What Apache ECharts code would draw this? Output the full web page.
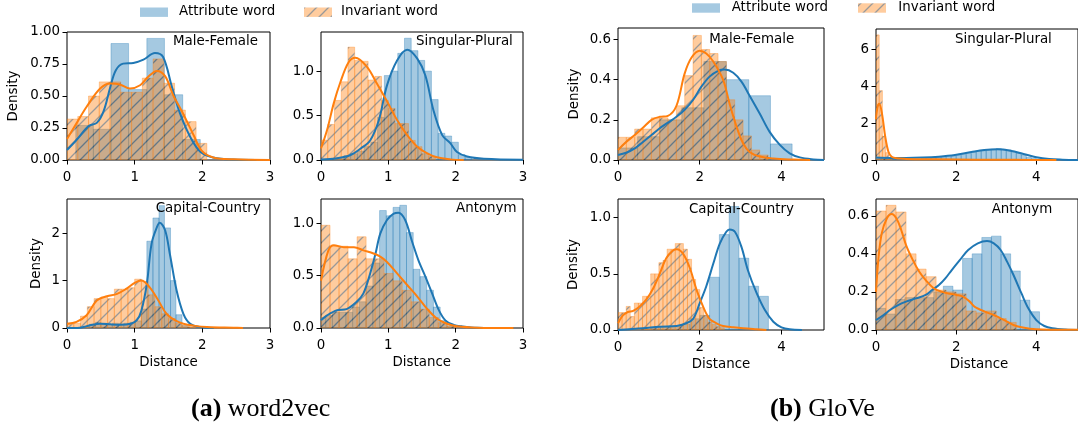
<!DOCTYPE html>
<html>
<head>
<meta charset="utf-8">
<script src="https://cdn.jsdelivr.net/npm/echarts@6.0.0/dist/echarts.min.js"></script>
<style>html,body{margin:0;padding:0;background:#fff}#c{width:1078px;height:431px}</style>
</head>
<body>
<div id="c"></div>
<script>
// ---------------- DATA ----------------
const legendLabels = ['Attribute word', 'Invariant word'];
const panelTitles = ['Male-Female', 'Singular-Plural', 'Capital-Country', 'Antonym'];
const captionTags = ['(a)', '(b)'];
const captionNames = ['word2vec', 'GloVe'];
const axisXName = 'Distance';
const axisYName = 'Density';

const w2vXTicks = [0, 1, 2, 3];
const gloveXTicks = [0, 2, 4];
const w2vMF_yTicks = [0, 0.25, 0.5, 0.75, 1.0];
const w2vSP_yTicks = [0, 0.5, 1.0];
const w2vCC_yTicks = [0, 1, 2];
const w2vAN_yTicks = [0, 0.5, 1.0];
const gloveMF_yTicks = [0, 0.2, 0.4, 0.6];
const gloveSP_yTicks = [0, 2, 4, 6];
const gloveCC_yTicks = [0, 0.5, 1.0];
const gloveAN_yTicks = [0, 0.2, 0.4, 0.6];

// word2vec / Male-Female
const w2vMF_attrEdges = [0.13, 0.39, 0.65, 0.91, 1.18, 1.44, 1.71, 1.97];
const w2vMF_attrHist = [0.27, 0.24, 0.91, 0.55, 0.95, 0.51, 0.16];
const w2vMF_invEdges = [0, 0.159, 0.318, 0.477, 0.636, 0.795, 0.954, 1.113, 1.272, 1.431, 1.59, 1.749, 1.908, 2.067];
const w2vMF_invHist = [0.32, 0.34, 0.50, 0.61, 0.61, 0.53, 0.53, 0.64, 0.79, 0.60, 0.39, 0.30, 0.13];
const w2vMF_attrKde = [[0,0.078],[0.14,0.156],[0.32,0.265],[0.44,0.29],[0.54,0.38],[0.64,0.57],[0.72,0.70],[0.83,0.753],[0.98,0.758],[1.13,0.784],[1.3,0.836],[1.42,0.805],[1.55,0.571],[1.67,0.364],[1.82,0.182],[1.97,0.065],[2.16,0.02],[2.46,0.003],[2.8,0]];
const w2vMF_invKde = [[0,0.164],[0.14,0.286],[0.29,0.416],[0.49,0.558],[0.64,0.597],[0.78,0.59],[0.93,0.558],[1.08,0.584],[1.2,0.65],[1.33,0.696],[1.45,0.655],[1.57,0.506],[1.72,0.358],[1.87,0.195],[1.99,0.073],[2.16,0.02],[2.46,0.005],[3.0,0]];

// word2vec / Singular-Plural
const w2vSP_attrEdges = [0.14,0.24,0.34,0.44,0.54,0.64,0.74,0.84,0.94,1.04,1.14,1.24,1.34,1.44,1.54,1.64,1.74,1.84,1.94,2.04,2.14,2.24];
const w2vSP_attrHist = [0.02,0.03,0.05,0.07,0.1,0.15,0.2,0.48,0.95,1.0,1.2,1.37,1.23,1.12,1.0,0.68,0.3,0.27,0.2,0.06,0.03];
const w2vSP_invEdges = [0,0.1,0.2,0.3,0.4,0.5,0.6,0.7,0.8,0.9,1.0,1.1,1.2,1.3,1.4,1.5,1.6,1.7];
const w2vSP_invHist = [0.225,0.40,0.67,0.88,1.27,1.12,1.11,0.90,0.94,0.67,0.58,0.41,0.41,0.22,0.15,0.07,0.04];
const w2vSP_attrKde = [[0,0.007],[0.24,0.02],[0.44,0.056],[0.59,0.13],[0.73,0.22],[0.86,0.45],[0.98,0.84],[1.13,1.12],[1.28,1.24],[1.43,1.14],[1.55,0.95],[1.67,0.56],[1.8,0.28],[1.92,0.19],[2.02,0.09],[2.17,0.04],[2.42,0.015],[3,0.004]];
const w2vSP_invKde = [[0,0.13],[0.09,0.337],[0.19,0.64],[0.29,0.88],[0.41,1.10],[0.51,1.15],[0.68,1.05],[0.83,0.86],[0.98,0.66],[1.13,0.45],[1.28,0.28],[1.43,0.15],[1.58,0.075],[1.72,0.03],[1.92,0.007],[2.12,0]];

// word2vec / Capital-Country
const w2vCC_attrEdges = [0.25,0.33,0.42,0.50,0.59,0.67,0.76,0.84,0.93,1.01,1.10,1.18,1.27,1.36,1.44,1.53,1.61,1.70,1.78];
const w2vCC_attrHist = [0.03,0.08,0.12,0.10,0.08,0.10,0.08,0.10,0.12,0.15,0.4,1.83,2.32,2.58,2.11,1.0,0.28,0.05];
const w2vCC_invEdges = [0,0.1,0.2,0.3,0.4,0.5,0.6,0.7,0.8,0.9,1.0,1.1,1.2,1.3,1.4,1.5,1.6,1.7,1.8,1.9];
const w2vCC_invHist = [0.08,0.1,0.25,0.45,0.62,0.65,0.62,0.82,0.82,0.85,1.03,0.98,0.7,0.45,0.3,0.2,0.1,0.05,0.03];
const w2vCC_attrKde = [[0,0],[0.19,0.007],[0.34,0.056],[0.49,0.09],[0.64,0.077],[0.79,0.07],[0.94,0.09],[1.03,0.16],[1.1,0.37],[1.18,0.93],[1.25,1.78],[1.33,2.13],[1.37,2.22],[1.45,2.06],[1.52,1.56],[1.62,0.79],[1.72,0.30],[1.82,0.09],[1.97,0.02],[2.17,0]];
const w2vCC_invKde = [[0,0.09],[0.14,0.13],[0.29,0.27],[0.44,0.58],[0.59,0.67],[0.74,0.72],[0.88,0.83],[1.0,0.95],[1.1,1.0],[1.22,0.86],[1.35,0.58],[1.47,0.30],[1.6,0.16],[1.72,0.09],[1.87,0.05],[2.07,0.02],[2.46,0.005],[2.6,0]];

// word2vec / Antonym
const w2vAN_attrEdges = [0,0.07,0.17,0.27,0.37,0.47,0.57,0.67,0.77,0.87,0.97,1.07,1.17,1.27,1.37,1.47,1.57,1.67,1.77,1.87,1.97];
const w2vAN_attrHist = [0.1,0.12,0.15,0.15,0.15,0.2,0.25,0.4,0.62,1.12,1.07,1.15,1.17,0.91,0.56,0.49,0.36,0.2,0.07,0.02];
const w2vAN_invEdges = [0,0.134,0.268,0.402,0.536,0.67,0.804,0.938,1.072,1.206,1.34,1.474,1.608,1.742,1.876,2.01];
const w2vAN_invHist = [0.98,0.78,0.78,0.66,0.87,0.66,0.66,0.52,0.45,0.36,0.25,0.18,0.1,0.05,0.02];
const w2vAN_attrKde = [[0,0.073],[0.09,0.12],[0.24,0.17],[0.38,0.18],[0.53,0.25],[0.63,0.33],[0.73,0.52],[0.81,0.71],[0.88,0.9],[0.98,1.03],[1.08,1.09],[1.15,1.10],[1.25,1.03],[1.35,0.83],[1.45,0.64],[1.55,0.49],[1.65,0.33],[1.75,0.17],[1.85,0.07],[1.97,0.03],[2.09,0.016],[2.32,0.003],[2.86,0]];
const w2vAN_invKde = [[0,0.45],[0.11,0.74],[0.19,0.79],[0.34,0.77],[0.49,0.77],[0.63,0.74],[0.78,0.71],[0.88,0.68],[0.98,0.63],[1.13,0.52],[1.28,0.41],[1.43,0.3],[1.58,0.18],[1.72,0.09],[1.87,0.04],[2.02,0.016],[2.32,0.003],[2.86,0]];

// GloVe / Male-Female
const gloveMF_attrEdges = [0,0.48,1.02,1.56,2.1,2.65,3.2,3.73,4.26];
const gloveMF_attrHist = [0.06,0.116,0.2,0.26,0.49,0.40,0.32,0.08];
const gloveMF_invEdges = [0,0.204,0.408,0.612,0.816,1.02,1.224,1.428,1.632,1.836,2.04,2.244,2.448,2.652,2.856,3.06,3.264,3.468,3.672];
const gloveMF_invHist = [0.113,0.113,0.154,0.154,0.21,0.21,0.2,0.27,0.42,0.62,0.55,0.53,0.49,0.3,0.2,0.12,0.05,0.025];
const gloveMF_attrKde = [[0,0.025],[0.2,0.036],[0.41,0.058],[0.61,0.09],[0.82,0.124],[1.02,0.158],[1.22,0.186],[1.43,0.215],[1.63,0.25],[1.84,0.3],[2.04,0.365],[2.24,0.415],[2.45,0.444],[2.61,0.45],[2.82,0.434],[3.02,0.39],[3.22,0.32],[3.47,0.23],[3.71,0.14],[3.96,0.075],[4.2,0.033],[4.45,0.013],[4.78,0.003],[5.04,0]];
const gloveMF_invKde = [[0,0.05],[0.2,0.09],[0.41,0.124],[0.61,0.16],[0.82,0.2],[1.02,0.215],[1.22,0.22],[1.43,0.27],[1.63,0.43],[1.8,0.51],[2.0,0.544],[2.16,0.53],[2.33,0.49],[2.57,0.4],[2.73,0.28],[2.9,0.166],[3.06,0.083],[3.22,0.04],[3.47,0.017],[3.8,0.007],[4.29,0.002],[4.7,0]];

// GloVe / Singular-Plural
const gloveSP_attrEdges = [0,0.125,0.25,0.375,0.5,0.625,0.75,0.875,1.0,1.125,1.25,1.375,1.5,1.625,1.75,1.875,2.0,2.125,2.25,2.375,2.5,2.625,2.75,2.875,3.0,3.125,3.25,3.375,3.5,3.625,3.75,3.875,4.0,4.125];
const gloveSP_attrHist = [0.1,0.1,0.08,0.06,0.05,0.06,0.05,0.05,0.05,0.08,0.1,0.12,0.15,0.15,0.18,0.2,0.25,0.3,0.35,0.42,0.48,0.5,0.55,0.58,0.62,0.58,0.55,0.45,0.38,0.28,0.15,0.08,0.04];
const gloveSP_invEdges = [0,0.08,0.16,0.24,0.32,0.4];
const gloveSP_invHist = [6.78,3.76,1.3,0.4,0.1];
const gloveSP_attrKde = [[0,0.13],[0.35,0.11],[0.75,0.11],[1.16,0.13],[1.57,0.18],[1.97,0.27],[2.38,0.43],[2.7,0.54],[3.03,0.58],[3.35,0.5],[3.68,0.33],[4.0,0.15],[4.32,0.05],[4.65,0.018],[5.04,0.005]];
const gloveSP_invKde = [[0,2.2],[0.04,2.9],[0.08,3.05],[0.15,2.5],[0.23,1.27],[0.31,0.45],[0.39,0.18],[0.51,0.09],[0.75,0.06],[1.5,0.04],[2.5,0.02],[3.5,0.01],[4.5,0]];

// GloVe / Capital-Country
const gloveCC_attrEdges = [0.8,1.04,1.28,1.52,1.76,2.0,2.24,2.48,2.72,2.96,3.2,3.44,3.68];
const gloveCC_attrHist = [0.02,0.03,0.03,0.05,0.1,0.13,0.47,0.85,1.1,0.64,0.39,0.3];
const gloveCC_invEdges = [0,0.1,0.2,0.3,0.4,0.5,0.6,0.7,0.8,0.9,1.0,1.1,1.2,1.3,1.4,1.5,1.6,1.7,1.8,1.9,2.0,2.1,2.2,2.3,2.4,2.5,2.6];
const gloveCC_invHist = [0.155,0.155,0.21,0.12,0.24,0.24,0.3,0.3,0.5,0.5,0.6,0.62,0.72,0.72,0.77,0.77,0.72,0.63,0.45,0.36,0.2,0.13,0.07,0.05,0.03,0.02];
const gloveCC_attrKde = [[0,0],[0.61,0.015],[1.02,0.03],[1.43,0.036],[1.67,0.06],[1.84,0.1],[2.0,0.24],[2.16,0.39],[2.33,0.59],[2.49,0.77],[2.65,0.875],[2.73,0.896],[2.86,0.875],[3.02,0.74],[3.18,0.53],[3.39,0.33],[3.59,0.18],[3.8,0.074],[4.0,0.024],[4.2,0.006],[4.5,0]];
const gloveCC_invKde = [[0,0.06],[0.12,0.13],[0.24,0.16],[0.37,0.17],[0.53,0.21],[0.69,0.27],[0.86,0.37],[1.02,0.5],[1.18,0.64],[1.35,0.71],[1.44,0.72],[1.59,0.68],[1.76,0.55],[1.92,0.36],[2.08,0.21],[2.24,0.10],[2.41,0.06],[2.57,0.036],[2.82,0.024],[3.06,0.015],[3.39,0.006],[3.63,0]];

// GloVe / Antonym
const gloveAN_attrEdges = [0,0.24,0.48,0.72,0.96,1.2,1.44,1.68,1.92,2.16,2.4,2.64,2.88,3.12,3.36,3.6,3.84,4.08];
const gloveAN_attrHist = [0.114,0.084,0.16,0.17,0.17,0.17,0.2,0.23,0.21,0.376,0.4,0.486,0.493,0.4,0.31,0.157,0.096];
const gloveAN_invEdges = [0,0.25,0.5,0.75,1.0,1.25,1.5,1.75,2.0,2.25,2.5,2.75,3.0,3.25,3.5];
const gloveAN_invHist = [0.625,0.655,0.62,0.40,0.32,0.28,0.21,0.2,0.19,0.1,0.09,0.1,0.06,0.04];
const gloveAN_attrKde = [[0,0.052],[0.19,0.079],[0.35,0.105],[0.55,0.131],[0.75,0.149],[1.0,0.166],[1.24,0.184],[1.4,0.21],[1.57,0.236],[1.73,0.271],[1.89,0.315],[2.09,0.367],[2.3,0.42],[2.54,0.455],[2.77,0.467],[2.94,0.455],[3.11,0.42],[3.27,0.359],[3.43,0.289],[3.63,0.192],[3.8,0.114],[4.0,0.052],[4.2,0.021],[4.4,0.009],[4.73,0.002],[5.04,0]];
const gloveAN_invKde = [[0,0.2],[0.065,0.385],[0.146,0.51],[0.27,0.586],[0.39,0.609],[0.51,0.586],[0.63,0.525],[0.75,0.446],[0.92,0.367],[1.08,0.306],[1.24,0.262],[1.44,0.219],[1.65,0.2],[1.85,0.19],[2.01,0.184],[2.17,0.175],[2.34,0.149],[2.46,0.122],[2.62,0.105],[2.78,0.091],[2.94,0.079],[3.11,0.061],[3.27,0.044],[3.43,0.026],[3.63,0.014],[3.84,0.007],[4.16,0.003],[5.04,0.001]];

// ---------------- LAYOUT / STYLE ----------------
const FONT = 'DejaVu Sans';
const FS = 13.4;
const BLUE = '#1f77b4';
const ORANGE = '#ff7f0e';

function makeHatch() {
  const c = document.createElement('canvas');
  c.width = 12; c.height = 12;
  const ctx = c.getContext('2d');
  ctx.fillStyle = ORANGE; ctx.fillRect(0, 0, 12, 12);
  ctx.strokeStyle = '#000'; ctx.lineWidth = 1.3;
  ctx.beginPath();
  ctx.moveTo(-1, 13); ctx.lineTo(13, -1);
  ctx.moveTo(-7, 7); ctx.lineTo(7, -7);
  ctx.moveTo(5, 19); ctx.lineTo(19, 5);
  ctx.stroke();
  return c;
}
const HATCH = makeHatch();
const hatchFill = { image: HATCH, repeat: 'repeat' };

const panels = [
  { grid: {left: 67, top: 32, width: 203, height: 128}, xMax: 3, xTicks: w2vXTicks, yMax: 1.0, yTicks: w2vMF_yTicks, dec: 2,
    aE: w2vMF_attrEdges, aH: w2vMF_attrHist, iE: w2vMF_invEdges, iH: w2vMF_invHist, aK: w2vMF_attrKde, iK: w2vMF_invKde, title: 0, tx: 173, ty: 41.7 },
  { grid: {left: 321, top: 32, width: 202, height: 128}, xMax: 3, xTicks: w2vXTicks, yMax: 1.44, yTicks: w2vSP_yTicks, dec: 1,
    aE: w2vSP_attrEdges, aH: w2vSP_attrHist, iE: w2vSP_invEdges, iH: w2vSP_invHist, aK: w2vSP_attrKde, iK: w2vSP_invKde, title: 1, tx: 416, ty: 41.7 },
  { grid: {left: 67, top: 199, width: 203, height: 129}, xMax: 3, xTicks: w2vXTicks, yMax: 2.72, yTicks: w2vCC_yTicks, dec: 0,
    aE: w2vCC_attrEdges, aH: w2vCC_attrHist, iE: w2vCC_invEdges, iH: w2vCC_invHist, aK: w2vCC_attrKde, iK: w2vCC_invKde, title: 2, tx: 155.7, ty: 209 },
  { grid: {left: 321, top: 199, width: 202, height: 129}, xMax: 3, xTicks: w2vXTicks, yMax: 1.23, yTicks: w2vAN_yTicks, dec: 1,
    aE: w2vAN_attrEdges, aH: w2vAN_attrHist, iE: w2vAN_invEdges, iH: w2vAN_invHist, aK: w2vAN_attrKde, iK: w2vAN_invKde, title: 3, tx: 456, ty: 209 },
  { grid: {left: 618, top: 28, width: 206, height: 132}, xMax: 5.04, xTicks: gloveXTicks, yMax: 0.657, yTicks: gloveMF_yTicks, dec: 1,
    aE: gloveMF_attrEdges, aH: gloveMF_attrHist, iE: gloveMF_invEdges, iH: gloveMF_invHist, aK: gloveMF_attrKde, iK: gloveMF_invKde, title: 0, tx: 709.3, ty: 39.3 },
  { grid: {left: 876, top: 29, width: 207, height: 131}, xMax: 5.04, xTicks: gloveXTicks, yMax: 7.1, yTicks: gloveSP_yTicks, dec: 0,
    aE: gloveSP_attrEdges, aH: gloveSP_attrHist, iE: gloveSP_invEdges, iH: gloveSP_invHist, aK: gloveSP_attrKde, iK: gloveSP_invKde, title: 1, tx: 955, ty: 39.3 },
  { grid: {left: 618, top: 199, width: 206, height: 131}, xMax: 5.04, xTicks: gloveXTicks, yMax: 1.167, yTicks: gloveCC_yTicks, dec: 1,
    aE: gloveCC_attrEdges, aH: gloveCC_attrHist, iE: gloveCC_invEdges, iH: gloveCC_invHist, aK: gloveCC_attrKde, iK: gloveCC_invKde, title: 2, tx: 689, ty: 209.3 },
  { grid: {left: 876, top: 199, width: 207, height: 131}, xMax: 5.04, xTicks: gloveXTicks, yMax: 0.688, yTicks: gloveAN_yTicks, dec: 1,
    aE: gloveAN_attrEdges, aH: gloveAN_attrHist, iE: gloveAN_invEdges, iH: gloveAN_invHist, aK: gloveAN_attrKde, iK: gloveAN_invKde, title: 3, tx: 991.7, ty: 209.3 }
];

function histSeries(edges, heights, gi, color, hatched) {
  return {
    type: 'custom', xAxisIndex: gi, yAxisIndex: gi, clip: true, silent: true,
    data: heights.map((h, i) => [edges[i], edges[i + 1], h]),
    renderItem: function (params, api) {
      const a = api.coord([api.value(0), api.value(2)]);
      const b = api.coord([api.value(1), 0]);
      return {
        type: 'rect',
        shape: { x: a[0], y: a[1], width: b[0] - a[0], height: b[1] - a[1] },
        style: { fill: hatched ? hatchFill : color, stroke: color, lineWidth: 0.8, opacity: 0.4 }
      };
    }
  };
}
function kdeSeries(pts, gi, color) {
  return {
    type: 'line', xAxisIndex: gi, yAxisIndex: gi, data: pts, smooth: 0.35, symbol: 'none', silent: true,
    lineStyle: { color: color, width: 2 }, itemStyle: { color: color }
  };
}

const grids = [], xAxes = [], yAxes = [], series = [], graphics = [];
const labelStyle = { color: '#000', fontFamily: FONT, fontSize: FS };
panels.forEach((p, i) => {
  grids.push(Object.assign({ show: true, borderColor: '#000', borderWidth: 1, backgroundColor: 'transparent' }, p.grid));
  xAxes.push({
    gridIndex: i, type: 'value', min: 0, max: p.xMax,
    axisLine: { show: false }, splitLine: { show: false },
    axisTick: { show: true, inside: false, length: 4.5, lineStyle: { color: '#000', width: 1 }, customValues: p.xTicks },
    axisLabel: Object.assign({ margin: 11, customValues: p.xTicks, formatter: v => String(Math.round(v)) }, labelStyle)
  });
  yAxes.push({
    gridIndex: i, type: 'value', min: 0, max: p.yMax,
    axisLine: { show: false }, splitLine: { show: false },
    axisTick: { show: true, inside: false, length: 4.5, lineStyle: { color: '#000', width: 1 }, customValues: p.yTicks },
    axisLabel: Object.assign({ margin: 7, customValues: p.yTicks, formatter: v => Number(v).toFixed(p.dec) }, labelStyle)
  });
  series.push(histSeries(p.aE, p.aH, i, BLUE, false));
  series.push(kdeSeries(p.aK, i, BLUE));
  series.push(histSeries(p.iE, p.iH, i, ORANGE, true));
  series.push(kdeSeries(p.iK, i, ORANGE));
  graphics.push({ type: 'text', x: p.tx, y: p.ty, z: 100,
    style: { text: panelTitles[p.title], fill: '#000', fontFamily: FONT, fontSize: FS, align: 'left', verticalAlign: 'middle', textAlign: 'left', textVerticalAlign: 'middle' } });
});

function txt(x, y, text, opts) {
  return Object.assign({ type: 'text', x: x, y: y, z: 100,
    style: Object.assign({ text: text, fill: '#000', fontFamily: FONT, fontSize: FS, align: 'center', verticalAlign: 'middle', textAlign: 'center', textVerticalAlign: 'middle' }, opts || {}) });
}
// axis names
graphics.push(txt(168.5, 362.3, axisXName));
graphics.push(txt(421.7, 362.3, axisXName));
graphics.push(txt(721, 365, axisXName));
graphics.push(txt(979, 365, axisXName));
[[14, 96], [36.7, 263.5], [574.3, 94], [573.7, 264.5]].forEach(pt => {
  const t = txt(pt[0], pt[1], axisYName); t.rotation = Math.PI / 2; graphics.push(t);
});
// legends
[[140, 7.5, 12, 179, 304, 341], [692, 3.3, 8, 731.7, 858, 898.3]].forEach(L => {
  graphics.push({ type: 'rect', z: 100, shape: { x: L[0], y: L[1], width: 28, height: 9.4 }, style: { fill: BLUE, opacity: 0.4 } });
  graphics.push({ type: 'rect', z: 100, shape: { x: L[4], y: L[1], width: 28, height: 9.4 }, style: { fill: hatchFill, opacity: 0.4 } });
  graphics.push(txt(L[3], L[2], legendLabels[0], { align: 'left', textAlign: 'left' }));
  graphics.push(txt(L[5], L[2], legendLabels[1], { align: 'left', textAlign: 'left' }));
});
// captions
[[191, 409, 0], [770, 409, 1]].forEach(c => {
  graphics.push({ type: 'text', x: c[0], y: c[1], z: 100,
    style: { text: '{b|' + captionTags[c[2]] + '} ' + captionNames[c[2]], fill: '#000', fontFamily: 'Liberation Serif', fontSize: 26,
      align: 'left', verticalAlign: 'middle', textAlign: 'left', textVerticalAlign: 'middle',
      rich: { b: { fontFamily: 'Liberation Serif', fontSize: 26, fontWeight: 'bold', fill: '#000' } } } });
});

const chart = echarts.init(document.getElementById('c'), null, { renderer: 'canvas' });
chart.setOption({
  animation: false,
  backgroundColor: '#fff',
  grid: grids, xAxis: xAxes, yAxis: yAxes, series: series,
  graphic: { elements: graphics }
});
</script>
</body>
</html>
